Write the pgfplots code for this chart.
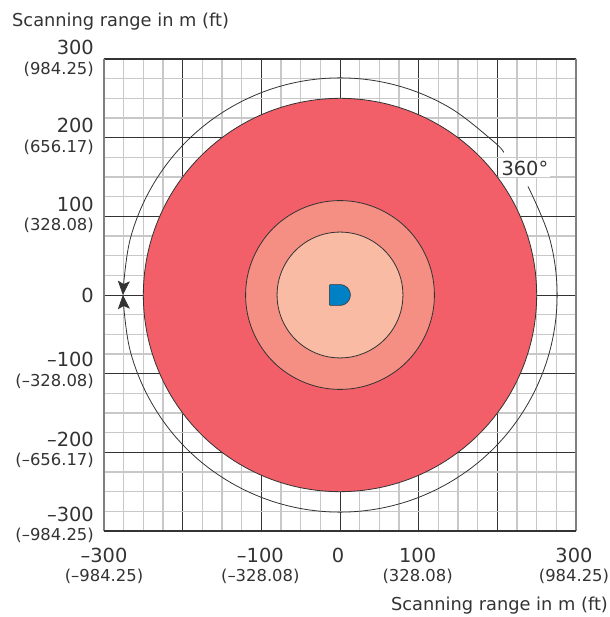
\documentclass[border=0pt]{standalone}
\usepackage{fontspec}
\setmainfont{DejaVu Sans}
\usepackage{array}
\usepackage{pgfplots}
\pgfplotsset{compat=1.18}
\usetikzlibrary{arrows.meta}

\definecolor{txt}{HTML}{333333}
\definecolor{zoneA}{HTML}{F25F68}
\definecolor{zoneB}{HTML}{F58F84}
\definecolor{zoneC}{HTML}{F9BBA4}
\definecolor{sensor}{HTML}{0081C6}
\definecolor{minorgrid}{HTML}{C8C8C8}
\definecolor{edge}{HTML}{808080}

\renewcommand{\arraystretch}{0.97}
\newcommand{\ft}{\fontsize{16.4}{20}\selectfont}
\newcommand{\num}{\fontsize{19.4}{20}\selectfont}
% two line tick labels, metres over feet
\newcommand{\xl}[2]{\num\begin{tabular}{@{}c@{}}#1\\\ft(#2)\end{tabular}}
% y labels sit a little off their ticks: #1 moves the text up, the box stays centred
\newcommand{\yl}[3]{\num\raisebox{\dimexpr#1-4.85pt\relax}[30pt][30pt]{\begin{tabular}{@{}r@{}}#2\\\ft(#3)\end{tabular}}}

\begin{document}
\begin{tikzpicture}[x=1pt,y=1pt]
\path[use as bounding box] (0,0) rectangle (609,617);
\begin{axis}[
    at={(104pt,86pt)},
    anchor=south west,
    scale only axis,
    width=472pt,
    height=472pt,
    xmin=-300, xmax=300,
    ymin=-300, ymax=300,
    clip=false,
    axis line style={draw=none},
    xtick={-300,-200,-100,0,100,200,300},
    ytick={-300,-200,-100,0,100,200,300},
    minor tick num=3,
    xmajorgrids=true, ymajorgrids=true,
    xminorgrids=true, yminorgrids=true,
    major grid style={draw=txt, line width=0.9pt},
    minor grid style={draw=minorgrid, line width=1.2pt},
    major tick length=0pt,
    minor tick length=0pt,
    xticklabels={
        {\xl{–300}{–984.25}},
        {},
        {\kern-2pt\xl{–100}{–328.08}},
        {\kern-4pt\num\begin{tabular}{@{}c@{}}0\end{tabular}},
        {\kern-2pt\xl{100}{328.08}},
        {},
        {\kern-4pt\xl{300}{984.25}}},
    yticklabels={
        {\yl{4pt}{–300}{–984.25}},
        {\yl{0pt}{–200}{–656.17}},
        {\yl{1pt}{–100}{–328.08}},
        {\num 0},
        {\yl{-0.5pt}{100}{328.08}},
        {\yl{-0.75pt}{200}{656.17}},
        {\yl{-1.5pt}{300}{984.25}}},
    xticklabel style={inner sep=0pt, yshift=-17pt, text=txt},
    yticklabel style={inner sep=0pt, xshift=-10pt, text=txt},
    xlabel={\fontsize{17.8}{20}\selectfont Scanning range in m (ft)},
    ylabel={\fontsize{17.8}{20}\selectfont Scanning range in m (ft)},
    every axis x label/.style={at={(axis description cs:1.068,-0.159)},anchor=east,inner sep=0pt,text=txt},
    every axis y label/.style={at={(axis description cs:-0.195,1.08)},anchor=west,inner sep=0pt,text=txt},
]
% frame
\addplot[draw=edge, line width=1.6pt] coordinates {(-300,-300)(-300,300)};
\addplot[draw=edge, line width=1.6pt] coordinates {(300,-300)(300,300)};
\addplot[draw=txt, line width=1pt] coordinates {(-300,300)(300,300)};
\addplot[draw=txt, line width=1pt] coordinates {(-300,-300)(300,-300)};

% range zones
\addplot[smooth cycle, tension=0.608, fill=zoneA, draw=txt, line width=0.8pt] coordinates {
    (250,0)(241.5,64.7)(216.5,125)(176.8,176.8)(125,216.5)(64.7,241.5)
    (0,250)(-64.7,241.5)(-125,216.5)(-176.8,176.8)(-216.5,125)(-241.5,64.7)
    (-250,0)(-241.5,-64.7)(-216.5,-125)(-176.8,-176.8)(-125,-216.5)(-64.7,-241.5)
    (0,-250)(64.7,-241.5)(125,-216.5)(176.8,-176.8)(216.5,-125)(241.5,-64.7)
};
\addplot[smooth cycle, tension=0.608, fill=zoneB, draw=txt, line width=0.8pt] coordinates {
    (120,0)(115.9,31.1)(103.9,60)(84.9,84.9)(60,103.9)(31.1,115.9)
    (0,120)(-31.1,115.9)(-60,103.9)(-84.9,84.9)(-103.9,60)(-115.9,31.1)
    (-120,0)(-115.9,-31.1)(-103.9,-60)(-84.9,-84.9)(-60,-103.9)(-31.1,-115.9)
    (0,-120)(31.1,-115.9)(60,-103.9)(84.9,-84.9)(103.9,-60)(115.9,-31.1)
};
\addplot[smooth cycle, tension=0.608, fill=zoneC, draw=txt, line width=0.8pt] coordinates {
    (80,0)(77.3,20.7)(69.3,40)(56.6,56.6)(40,69.3)(20.7,77.3)
    (0,80)(-20.7,77.3)(-40,69.3)(-56.6,56.6)(-69.3,40)(-77.3,20.7)
    (-80,0)(-77.3,-20.7)(-69.3,-40)(-56.6,-56.6)(-40,-69.3)(-20.7,-77.3)
    (0,-80)(20.7,-77.3)(40,-69.3)(56.6,-56.6)(69.3,-40)(77.3,-20.7)
};

% sensor
\addplot[fill=sensor, draw=txt, line width=0.6pt] coordinates {
    (-13.5,-12.2)(-13.5,12.2)(-12.5,13.2)(0,13.2)(3.4,12.75)(6.6,11.4)(9.3,9.3)(11.4,6.6)(12.75,3.4)
    (13.2,0)(12.75,-3.4)(11.4,-6.6)(9.3,-9.3)(6.6,-11.4)(3.4,-12.75)(0,-13.2)(-12.5,-13.2)
} -- cycle;

% label box hides the grid behind 360 degrees
\node[text=txt, fill=white, inner sep=0pt, minimum width=51pt, minimum height=17.5pt, font=\fontsize{19.4}{20}\selectfont] at (axis cs:235,161) {360°};

% 360 degree arc, broken at the label
\addplot[smooth, tension=0.608, draw=txt, line width=0.8pt, -{Stealth[length=14pt,width=12pt,inset=3pt]}] coordinates {
    (208.3,181.1)(195.2,195.2)(138,239)(71.4,266.6)(0,276)(-71.4,266.6)(-138,239)(-195.2,195.2)
    (-239,138)(-266.6,71.4)(-276,0)
};
\addplot[smooth, tension=0.608, draw=txt, line width=0.8pt, -{Stealth[length=14pt,width=12pt,inset=3pt]}] coordinates {
    (239,138)(266.6,71.4)(276,0)(266.6,-71.4)(239,-138)(195.2,-195.2)(138,-239)(71.4,-266.6)
    (0,-276)(-71.4,-266.6)(-138,-239)(-195.2,-195.2)(-239,-138)(-266.6,-71.4)(-276,0)
};
\end{axis}
\end{tikzpicture}
\end{document}
